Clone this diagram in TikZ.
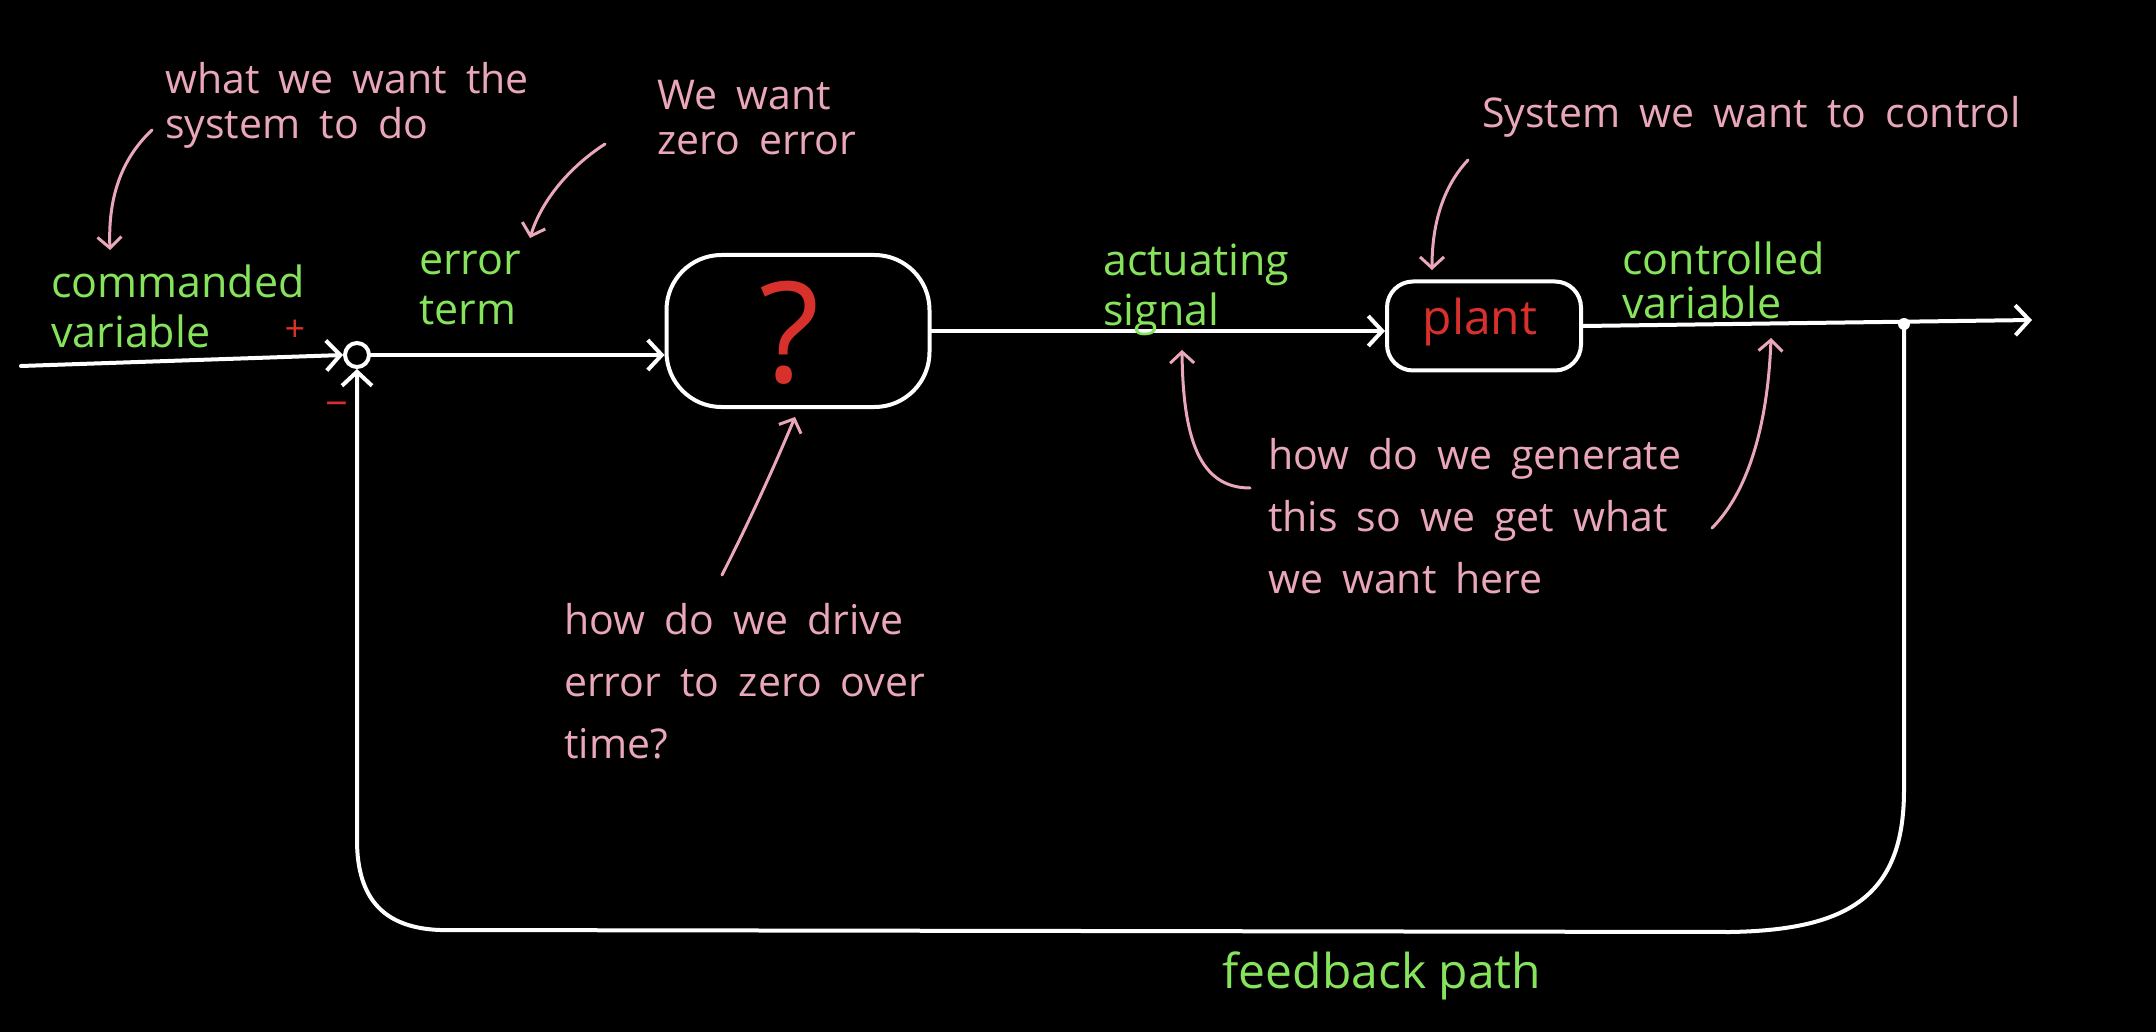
\documentclass[tikz,border=0pt]{standalone}
\usepackage{fontspec}
\setmainfont{Open Sans}
\usetikzlibrary{arrows.meta,calc}
\definecolor{chalkgreen}{HTML}{86E35C}
\definecolor{chalkpink}{HTML}{E9A7B9}
\definecolor{chalkred}{HTML}{D8302A}
\newfontfamily\notefont[WordSpace=1.8]{Open Sans}
\begin{document}
\begin{tikzpicture}[x=1pt,y=-1pt,
  wire/.style={draw=white,line width=4pt,line cap=round,line join=round},
  sig/.style={wire,-{Straight Barb[length=14pt,width=30pt]}},
  note/.style={draw=chalkpink,line width=3pt,line cap=round,-{Straight Barb[length=11pt,width=24pt]}},
  block/.style={draw=white,line width=4pt,inner sep=0pt},
  greentxt/.style={text=chalkgreen,font=\fontsize{43}{50}\selectfont,align=left,inner sep=0pt,anchor=west},
  pinktxt/.style={text=chalkpink,font=\notefont\fontsize{41}{62}\selectfont,align=left,inner sep=0pt,anchor=west},
  redtxt/.style={text=chalkred,inner sep=0pt}
]
\fill[black] (0,0) rectangle (2156,1032);
\useasboundingbox (0,0) rectangle (2156,1032);

% blocks
\node[block,minimum width=263pt,minimum height=152pt,rounded corners=55pt] (ctrl) at (798,331) {};
\node[redtxt,font=\fontsize{140}{140}\selectfont] (qm) at (790,333) {?};
\node[block,minimum width=194pt,minimum height=89pt,rounded corners=26pt] (plant) at (1484,326) {};
\node[redtxt,font=\fontsize{48}{50}\selectfont] (plantlbl) at (1480,322) {plant};
\node[circle,draw=white,line width=4pt,minimum size=24pt,inner sep=0pt] (sum) at (357,355) {};
\node[redtxt,font=\fontsize{36}{40}\selectfont] (plus) at (295,331) {+};
\node[redtxt,font=\fontsize{40}{40}\selectfont] (minus) at (337,410) {−};

% signal lines
\coordinate (in) at (21,366);
\draw[sig] (in) -- (sum.west);
\draw[sig] (sum.east) -- (sum.east -| ctrl.west);
\draw[sig] (ctrl.east) -- (ctrl.east -| plant.west);
\coordinate (out) at (2032,320);
\draw[sig] (plant.east) -- (out);
\coordinate (br) at (1904,324);
\fill[white] (br) circle (6pt);
\draw[sig] (br) -- (1904,790) .. controls (1904,895) and (1850,930) .. (1730,932)
  -- (440,930) .. controls (385,928) and (357,900) .. (357,840) -- (sum.south);

% green labels
\node[greentxt] (cmd) at (51,306) {commanded\\variable};
\node[greentxt] (err) at (419,288) {error\\term};
\node[greentxt] (act) at (1103,290) {actuating\\signal};
\node[greentxt,font=\fontsize{43}{44}\selectfont] (cv) at (1622,280) {controlled\\variable};
\node[greentxt,font=\fontsize{48}{50}\selectfont,anchor=center] (fb) at (1382,976) {feedback path};

% pink notes
\node[pinktxt,font=\notefont\fontsize{41}{45}\selectfont] (n1) at (165,105) {what we want the\\system to do};
\node[pinktxt,font=\notefont\fontsize{41}{45}\selectfont] (n2) at (657,118) {We want\\zero error};
\node[pinktxt] (n3) at (1482,117) {System we want to control};
\node[pinktxt] (n4) at (1268,516) {how do we generate\\this so we get what\\we want here};
\node[pinktxt] (n5) at (564,681) {how do we drive\\error to zero over\\time?};

\coordinate (a1s) at (152,130); \coordinate (a1e) at (110,250);
\draw[note] (a1s) .. controls (120,160) and (108,200) .. (a1e);
\coordinate (a2s) at (605,144); \coordinate (a2e) at (530,238);
\draw[note] (a2s) .. controls (565,170) and (540,205) .. (a2e);
\coordinate (a3s) at (1468,160); \coordinate (a3e) at (1432,270);
\draw[note] (a3s) .. controls (1440,190) and (1432,230) .. (a3e);
\coordinate (a4s) at (722,575); \coordinate (a4e) at (795,417);
\draw[note] (a4s) .. controls (750,520) and (775,465) .. (a4e);
\coordinate (a5s) at (1250,488); \coordinate (a5e) at (1182,350);
\draw[note] (a5s) .. controls (1200,488) and (1183,440) .. (a5e);
\coordinate (a6s) at (1712,528); \coordinate (a6e) at (1771,338);
\draw[note] (a6s) .. controls (1750,490) and (1768,420) .. (a6e);
\end{tikzpicture}
\end{document}
